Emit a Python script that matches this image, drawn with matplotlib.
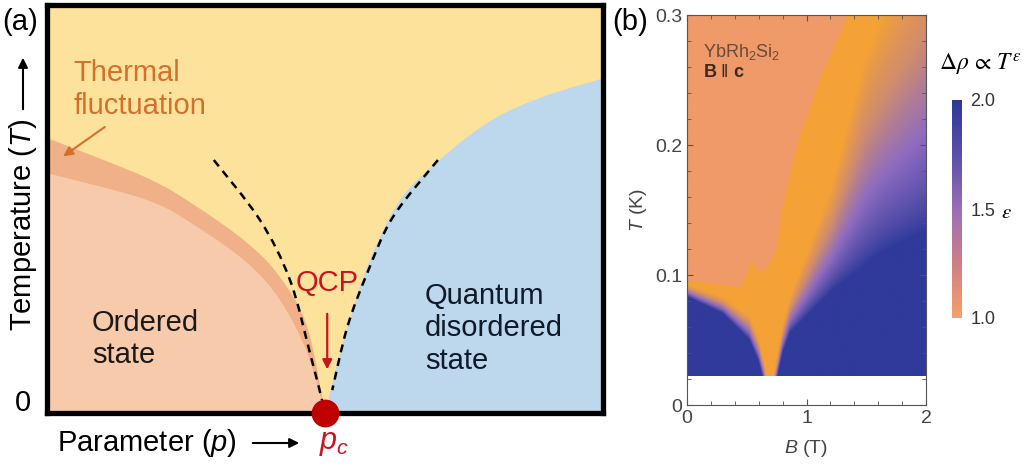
import numpy as np
import matplotlib
matplotlib.use("Agg")
import matplotlib.pyplot as plt
from matplotlib.path import Path
from matplotlib.patches import PathPatch, FancyArrowPatch
from matplotlib.colors import LinearSegmentedColormap, Normalize
from matplotlib.cm import ScalarMappable
from matplotlib.ticker import MultipleLocator

plt.rcParams['font.family'] = ['Liberation Sans', 'DejaVu Sans']
plt.rcParams['mathtext.fontset'] = 'custom'
plt.rcParams['mathtext.rm'] = 'Liberation Sans'
plt.rcParams['mathtext.it'] = 'Liberation Sans:italic'
plt.rcParams['mathtext.bf'] = 'Liberation Sans:bold'

# ---- panel (a): schematic phase diagram, p and T scaled to 0..1, p_c = 0.5
band_p = [0.0, 0.18, 0.27, 0.36, 0.419, 0.468, 0.5]
band_T = [0.674, 0.576, 0.505, 0.417, 0.333, 0.211, 0.0]
ordered_p = [0.0, 0.18, 0.27, 0.36, 0.419, 0.468, 0.5]
ordered_T = [0.588, 0.522, 0.456, 0.368, 0.277, 0.147, 0.0]
quantum_p = [0.5, 0.532, 0.576, 0.635, 0.712, 0.80, 0.892, 1.0]
quantum_T = [0.0, 0.17, 0.358, 0.522, 0.627, 0.718, 0.775, 0.82]
dash_left_p = [0.30, 0.383, 0.437, 0.473, 0.495]
dash_left_T = [0.62, 0.473, 0.326, 0.147, 0.03]
dash_right_p = [0.703, 0.622, 0.576, 0.54, 0.513]
dash_right_T = [0.62, 0.48, 0.343, 0.21, 0.056]
p_c = 0.5

# ---- panel (b): YbRh2Si2 exponent map, knots
B_knots = [0.0, 0.3, 0.52, 0.6, 0.65, 0.67, 0.71, 0.74, 0.8, 0.86, 1.0, 1.22, 1.5, 1.64, 2.0]
T_blue = [0.083, 0.07, 0.05, 0.033, 0.015, -0.01, -0.01, 0.015, 0.04, 0.055, 0.068, 0.088, 0.108, 0.118, 0.134]
T_orange = [0.092, 0.082, 0.068, 0.05, 0.03, 0.015, 0.015, 0.03, 0.06, 0.082, 0.115, 0.17, 0.27, 0.3, 0.37]
salmon_B = [0.0, 0.2, 0.44, 0.5, 0.54, 0.58, 0.63, 0.7, 0.75, 0.795, 0.92, 1.11, 1.35, 1.36, 2.0]
salmon_T = [0.095, 0.093, 0.09, 0.1, 0.111, 0.104, 0.101, 0.11, 0.12, 0.15, 0.2, 0.25, 0.3, 1.0, 1.0]
T_min = 0.022

W, H = 1025, 466
fig = plt.figure(figsize=(W / 100, H / 100), dpi=100)


def fx(x, y):
    return x / W, 1 - y / H


def curve(px, py):
    pts = np.column_stack([px, py])
    n = len(pts)
    out = []
    for i in range(n - 1):
        p0 = pts[max(i - 1, 0)]
        p1, p2 = pts[i], pts[i + 1]
        p3 = pts[min(i + 2, n - 1)]
        out += [p1 + (p2 - p0) / 6, p2 - (p3 - p1) / 6, p2]
    return out


def region(ax, head, px, py, tail, **kw):
    c = curve(px, py)
    verts = list(head) + [(px[0], py[0])] + c + list(tail) + [(0, 0)]
    codes = ([Path.MOVETO] + [Path.LINETO] * len(head) + [Path.CURVE4] * len(c)
             + [Path.LINETO] * len(tail) + [Path.CLOSEPOLY])
    if not head:
        codes[0] = Path.MOVETO
    ax.add_patch(PathPatch(Path(verts, codes), lw=0, **kw))


def dashed(ax, px, py):
    c = curve(px, py)
    path = Path([(px[0], py[0])] + c, [Path.MOVETO] + [Path.CURVE4] * len(c))
    ax.add_patch(PathPatch(path, fill=False, ls=(0, (3.2, 2.4)), lw=1.8, color='black', zorder=3))


ax = fig.add_axes([47 / W, 1 - 413 / H, 556 / W, 408 / H])
ax.set_facecolor('#FDE29C')
region(ax, [(0, 0)], band_p, band_T, [], color='#F0B088')
region(ax, [(0, 0)], ordered_p, ordered_T, [], color='#F7CAAB')
region(ax, [], quantum_p, quantum_T, [(1.0, 0.0)], color='#BDD7EC')
dashed(ax, dash_left_p, dash_left_T)
dashed(ax, dash_right_p, dash_right_T)
ax.set_xlim(0, 1)
ax.set_ylim(0, 1)
ax.set_xticks([])
ax.set_yticks([])
for s in ax.spines.values():
    s.set_linewidth(3.8)
    s.set_color('black')
ax.plot([p_c], [0], 'o', ms=19, color='#C00000', clip_on=False, zorder=6)

ax.text(0.047, 0.793, 'Thermal\nfluctuation', fontsize=21, color='#D4702E', ha='left', va='center')
ax.annotate('', xy=(0.025, 0.625), xytext=(0.108, 0.705),
            arrowprops=dict(arrowstyle='-|>', color='#D4702E', lw=1.5, mutation_scale=14))
ax.text(0.081, 0.181, 'Ordered\nstate', fontsize=21, color='#1a1a1a', ha='left', va='center')
ax.text(0.68, 0.208, 'Quantum\ndisordered\nstate', fontsize=21, color='#0f1a28', ha='left', va='center')
ax.text(0.504, 0.319, 'QCP', fontsize=21, color='#C8141E', ha='center', va='center')
ax.annotate('', xy=(0.504, 0.1), xytext=(0.504, 0.25),
            arrowprops=dict(arrowstyle='-|>', color='#C8141E', lw=1.6, mutation_scale=14))

fig.text(*fx(2, 22), '(a)', fontsize=21, ha='left', va='center')
fig.text(*fx(23, 225), 'Temperature ($T$)', fontsize=21, rotation=90, ha='center', va='center')
fig.add_artist(FancyArrowPatch(fx(23, 112), fx(23, 55), transform=fig.transFigure,
                               arrowstyle='-|>', mutation_scale=14, lw=1.5, color='black'))
fig.text(*fx(23, 403), '0', fontsize=21, ha='center', va='center')
fig.text(*fx(57, 443), 'Parameter ($p$)', fontsize=21, ha='left', va='center')
fig.add_artist(FancyArrowPatch(fx(250, 443), fx(302, 443), transform=fig.transFigure,
                               arrowstyle='-|>', mutation_scale=14, lw=1.5, color='black'))
fig.text(*fx(334, 443), '$p_c$', fontsize=22, color='#C8141E', ha='center', va='center')

# ---- panel (b)
bx = fig.add_axes([687 / W, 1 - 405 / H, 239 / W, 390 / H])
B = np.linspace(0, 2, 500)
T = np.linspace(T_min, 0.3, 500)
tb = np.interp(B, B_knots, T_blue)
to = np.interp(B, B_knots, T_orange)
eps = 2 - np.clip((T[:, None] - tb) / (to - tb), 0, 1) ** 0.8
eps[T[:, None] > np.interp(B, salmon_B, salmon_T)] = np.nan

map_cmap = LinearSegmentedColormap.from_list(
    'eps_map', [(0, '#F4A136'), (0.3, '#D08C6E'), (0.6, '#8E6CC0'), (1, '#2F3A9A')])
map_cmap.set_bad('#EF9A68')
bx.imshow(eps, origin='lower', extent=[0, 2, T_min, 0.3], aspect='auto',
          cmap=map_cmap, vmin=1, vmax=2, interpolation='bilinear')
bx.set_xlim(0, 2)
bx.set_ylim(0, 0.3)
bx.set_xticks([0, 1, 2])
bx.set_xticklabels(['0', '1', '2'])
bx.set_yticks([0, 0.1, 0.2, 0.3])
bx.set_yticklabels(['0', '0.1', '0.2', '0.3'])
bx.xaxis.set_minor_locator(MultipleLocator(0.2))
bx.yaxis.set_minor_locator(MultipleLocator(0.02))
bx.tick_params(which='both', direction='in', top=True, right=True, color='#555555',
               labelsize=14, labelcolor='#444444')
bx.tick_params(which='major', length=4, width=0.8)
bx.tick_params(which='minor', length=3, width=0.6)
for s in bx.spines.values():
    s.set_linewidth(0.8)
    s.set_color('#555555')
bx.set_xlabel('$B$ (T)', fontsize=14, color='#444444', labelpad=8)
bx.set_ylabel('$T$ (K)', fontsize=14, color='#444444', labelpad=4)
bx.text(0.065, 0.905, 'YbRh$_2$Si$_2$', transform=bx.transAxes, fontsize=13, color='#6a4a3a', va='center')
bx.text(0.065, 0.852, r'$\mathbf{B}\ \|\ \mathbf{c}$', transform=bx.transAxes, fontsize=13,
        color='#3a2a22', va='center')

fig.text(*fx(630, 22), '(b)', fontsize=21, ha='center', va='center')

cax = fig.add_axes([952 / W, 1 - 318 / H, 10 / W, 218 / H])
cbar_cmap = LinearSegmentedColormap.from_list(
    'eps_bar', [(0, '#F4A06A'), (0.25, '#CE7F86'), (0.5, '#9A6EB5'), (0.75, '#5A4FAA'), (1, '#2D3897')])
cb = fig.colorbar(ScalarMappable(norm=Normalize(1, 2), cmap=cbar_cmap), cax=cax)
cb.outline.set_visible(False)
cb.set_ticks([1, 1.5, 2])
cb.set_ticklabels(['1.0', '1.5', '2.0'])
cax.tick_params(length=0, labelsize=13, labelcolor='#333333', pad=6)
fig.text(*fx(1006, 213), r'$\varepsilon$', fontsize=15, math_fontfamily='stix', ha='center', va='center')
fig.text(*fx(980, 65), r'$\Delta\rho\,\propto\,T^{\varepsilon}$', fontsize=17,
         math_fontfamily='stix', ha='center', va='center')

fig.savefig('out.png', dpi=100)
